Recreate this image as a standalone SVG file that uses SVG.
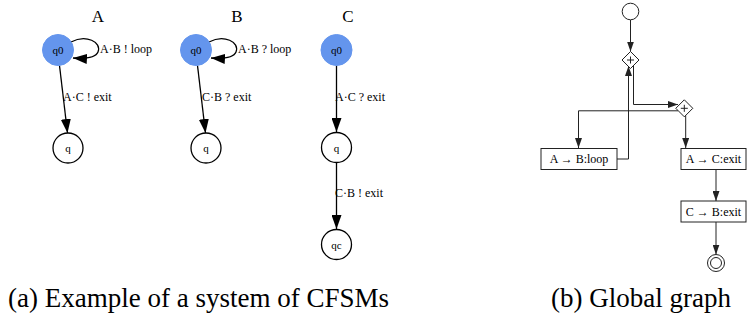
<svg xmlns="http://www.w3.org/2000/svg" width="747" height="324" viewBox="0 0 747 324">
  <style>
    text { font-family: "Liberation Serif", "Times New Roman", serif; fill: #000; }
    .title { font-size: 17px; text-anchor: middle; }
    .lbl { font-size: 12px; }
    .nlbl { font-size: 11px; text-anchor: middle; }
    .cap { font-size: 27px; }
    .box { font-size: 12px; text-anchor: middle; }
    .init { fill: #6495ED; stroke: #6495ED; stroke-width: 1; }
    .st { fill: #fff; stroke: #000; stroke-width: 1.3; }
    .e { fill: none; stroke: #000; stroke-width: 1.3; marker-end: url(#big); }
    .g { fill: none; stroke: #222; stroke-width: 1; }
    .ga { fill: none; stroke: #222; stroke-width: 1; marker-end: url(#small); }
    .gn { fill: #fff; stroke: #222; stroke-width: 1; }
  </style>
  <defs>
    <marker id="big" markerUnits="userSpaceOnUse" viewBox="0 0 14 10" markerWidth="14" markerHeight="10" refX="14" refY="5" orient="auto">
      <path d="M0,0 L14,5 L0,10 z" fill="#000"/>
    </marker>
    <marker id="small" markerUnits="userSpaceOnUse" viewBox="0 0 10 7" markerWidth="10" markerHeight="7" refX="10" refY="3.5" orient="auto">
      <path d="M0,0 L10,3.5 L0,7 z" fill="#222"/>
    </marker>
  </defs>

  <!-- (a) machine titles -->
  <text class="title" x="98" y="22">A</text>
  <text class="title" x="237" y="22">B</text>
  <text class="title" x="348" y="22">C</text>

  <!-- (a) transitions -->
  <g id="cfsm-edges">
    <path class="e" d="M71,42 C86,34 102,42 98,52 C96,57 88,59 73,58"/>
    <text class="lbl" x="100" y="53">A·B ! loop</text>
    <path class="e" d="M59.5,65.5 L67.5,133"/>
    <text class="lbl" x="63" y="101">A·C ! exit</text>

    <path class="e" d="M209,42 C224,34 240,42 236,52 C234,57 226,59 211,58"/>
    <text class="lbl" x="238" y="53">A·B ? loop</text>
    <path class="e" d="M197.5,65.5 L205.5,133"/>
    <text class="lbl" x="202" y="101">C·B ? exit</text>

    <path class="e" d="M336.5,65.5 L336.5,132"/>
    <text class="lbl" x="335" y="101">A·C ? exit</text>
    <path class="e" d="M336.5,162.5 L336.5,229"/>
    <text class="lbl" x="335" y="197">C·B ! exit</text>
  </g>

  <!-- (a) states -->
  <g id="A-q0"><circle class="init" cx="58" cy="50" r="15.5"/><text class="nlbl" x="58" y="54">q0</text></g>
  <g id="A-q"><circle class="st" cx="68" cy="148" r="15"/><text class="nlbl" x="68" y="152">q</text></g>
  <g id="B-q0"><circle class="init" cx="196" cy="50" r="15.5"/><text class="nlbl" x="196" y="54">q0</text></g>
  <g id="B-q"><circle class="st" cx="206" cy="148" r="15"/><text class="nlbl" x="206" y="152">q</text></g>
  <g id="C-q0"><circle class="init" cx="336.5" cy="50" r="15.5"/><text class="nlbl" x="336.5" y="54">q0</text></g>
  <g id="C-q"><circle class="st" cx="336.5" cy="147.5" r="15"/><text class="nlbl" x="336.5" y="151.5">q</text></g>
  <g id="C-qc"><circle class="st" cx="336.5" cy="244.5" r="15"/><text class="nlbl" x="336.5" y="248.5">qc</text></g>

  <!-- (b) global graph connectors -->
  <g id="gg-edges">
    <path class="ga" d="M630.5,20 L630.5,51.5"/>
    <path class="ga" d="M633.5,64 L633.5,104.5 L678,104.5"/>
    <path class="ga" d="M617,159 L628.5,159 L628.5,66"/>
    <path class="ga" d="M678,110.8 L578.5,110.8 L578.5,148"/>
    <path class="ga" d="M685.7,115.5 L685.7,148"/>
    <path class="ga" d="M716,169 L716,201"/>
    <path class="ga" d="M716,222 L716,254.5"/>
  </g>

  <!-- (b) global graph nodes -->
  <g id="start"><circle class="gn" cx="630.5" cy="11.5" r="8.3"/></g>
  <g id="fork1">
    <path class="gn" d="M630.5,51.5 L639,60 L630.5,68.5 L622,60 z"/>
    <path class="g" d="M627,60 H634 M630.5,56.5 V63.5"/>
  </g>
  <g id="fork2">
    <path class="gn" d="M684.3,99.8 L692.8,108.3 L684.3,116.8 L675.8,108.3 z"/>
    <path class="g" d="M680.8,108.3 H687.8 M684.3,104.8 V111.8"/>
  </g>
  <g id="ab-loop">
    <rect class="gn" x="541" y="148.5" width="76" height="21"/>
    <text class="box" x="579" y="163">A → B:loop</text>
  </g>
  <g id="ac-exit">
    <rect class="gn" x="681" y="148.5" width="65" height="21"/>
    <text class="box" x="713.5" y="163">A → C:exit</text>
  </g>
  <g id="cb-exit">
    <rect class="gn" x="681" y="201" width="65" height="21"/>
    <text class="box" x="713.5" y="215.5">C → B:exit</text>
  </g>
  <g id="end">
    <circle class="gn" cx="716" cy="263" r="8.5"/>
    <circle class="gn" cx="716" cy="263" r="5.5"/>
  </g>

  <!-- captions -->
  <text class="cap" x="8" y="307">(a) Example of a system of CFSMs</text>
  <text class="cap" x="551" y="307">(b) Global graph</text>
</svg>
